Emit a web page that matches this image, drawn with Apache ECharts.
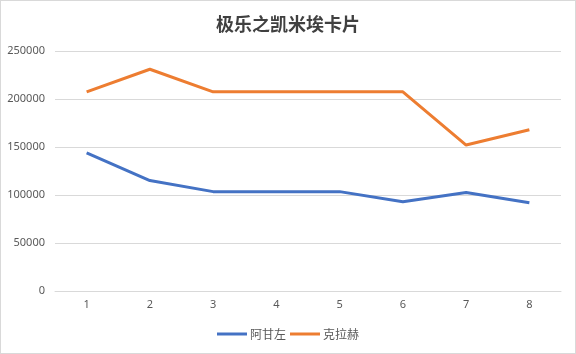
<!DOCTYPE html>
<html><head><meta charset="utf-8">
<script src="https://cdn.jsdelivr.net/npm/echarts@6/dist/echarts.min.js"></script>
<style>html,body{margin:0;padding:0;background:#fff}#c{width:574px;height:352px;border:1px solid #d9d9d9}</style>
</head><body><div id="c"></div>
<script>
var categories = ['1','2','3','4','5','6','7','8'];
var seriesNames = ['阿甘左','克拉赫'];
var aganzuo = [144000,115000,103500,103500,103500,93000,102500,92000];
var kelahe = [207500,231000,207500,207500,207500,207500,152000,168000];
var colors = ['#4472C4','#ED7D31'];
var chart = echarts.init(document.getElementById('c'));
chart.setOption({
  animation:false,
  title:{text:'极乐之凯米埃卡片',left:'center',top:9,textStyle:{fontFamily:'Noto Sans CJK SC',fontSize:18,fontWeight:'bold',color:'#404040'}},
  grid:{left:54,right:14,top:50,bottom:62},
  legend:{bottom:8,itemWidth:30,itemHeight:3,itemGap:4,icon:'rect',textStyle:{fontFamily:'Noto Sans CJK SC',fontSize:12,color:'#595959',padding:[0,0,0,-2]},data:seriesNames},
  xAxis:{type:'category',data:categories,boundaryGap:true,axisLine:{lineStyle:{color:'#d9d9d9'}},axisTick:{show:false},axisLabel:{color:'#595959',fontSize:11,fontFamily:'Noto Sans'}},
  yAxis:{type:'value',min:0,max:250000,interval:50000,axisLine:{show:false},axisTick:{show:false},splitLine:{lineStyle:{color:'#d9d9d9'}},axisLabel:{color:'#595959',fontSize:11,fontFamily:'Noto Sans',margin:10,formatter:function(v){return String(v);}}},
  series:[
    {name:seriesNames[0],type:'line',data:aganzuo,symbol:'none',lineStyle:{width:3,color:colors[0]},itemStyle:{color:colors[0]}},
    {name:seriesNames[1],type:'line',data:kelahe,symbol:'none',lineStyle:{width:3,color:colors[1]},itemStyle:{color:colors[1]}}
  ]
});
</script></body></html>
